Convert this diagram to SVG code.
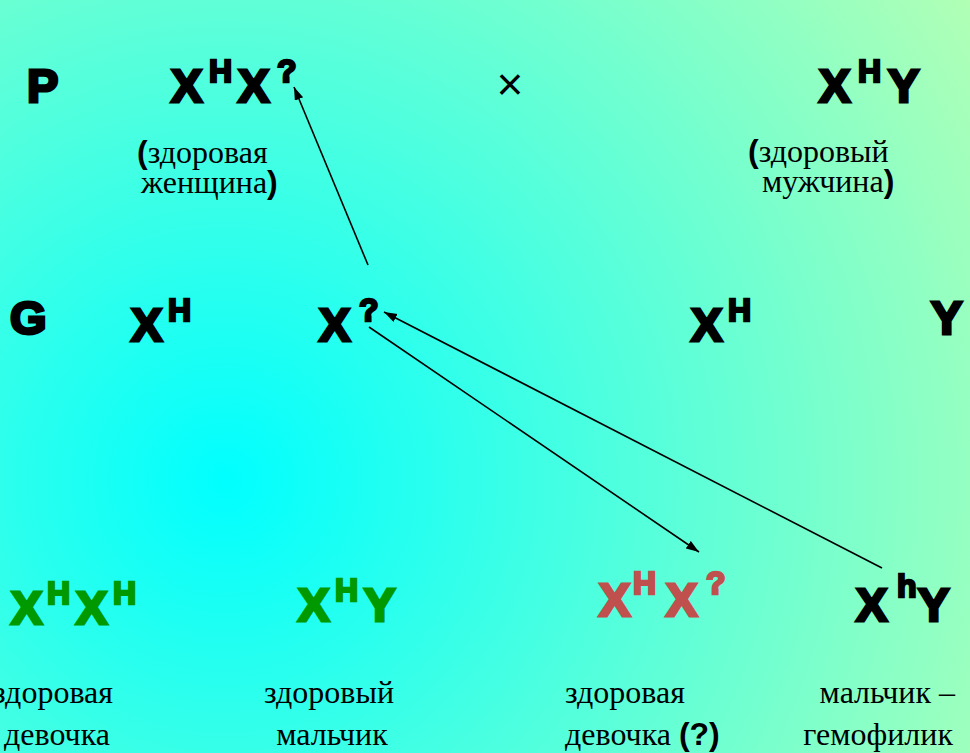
<svg xmlns="http://www.w3.org/2000/svg" width="970" height="753" viewBox="0 0 970 753">
<defs>
<radialGradient id="bg" gradientUnits="userSpaceOnUse" cx="225" cy="480" r="900">
<stop offset="0" stop-color="#00FFFF"/>
<stop offset="1" stop-color="#B4FFB4"/>
</radialGradient>
<marker id="ah" markerUnits="userSpaceOnUse" markerWidth="14" markerHeight="10" refX="13" refY="4.5" orient="auto">
<path d="M0,0 L13,4.5 L0,9 z" fill="#000"/>
</marker>
<style>
.g{font-family:"Liberation Sans",Arial,sans-serif;font-weight:bold;font-size:47px;stroke-width:3px;stroke-linejoin:miter}
.s{font-size:32px;stroke-width:2.4px}
.k{fill:#000;stroke:#000}
.gr{fill:#009900;stroke:#009900}
.rd{fill:#C0504D;stroke:#C0504D}
.t{font-family:"Liberation Serif","Times New Roman",serif;font-size:32px;fill:#000}
.p{font-family:"Liberation Sans",Arial,sans-serif;font-weight:bold}
.ln{stroke:#000;stroke-width:1.6;fill:none;marker-end:url(#ah)}
</style>
</defs>
<rect width="970" height="753" fill="url(#bg)"/>

<g id="row-P">
<text class="g k" x="27" y="102">P</text>
</g>
<g id="mother">
<text class="g k" y="102"><tspan x="171">X</tspan><tspan class="s" x="209" y="82">H</tspan><tspan x="238" y="102">X</tspan><tspan class="s" x="277" y="82">?</tspan></text>
<text class="t" x="137" y="163"><tspan class="p">(</tspan>здоровая</text>
<text class="t" x="141" y="193">женщина<tspan class="p">)</tspan></text>
</g>
<g id="cross">
<text x="510" y="100" text-anchor="middle" font-family="Liberation Sans,Arial,sans-serif" font-size="46" fill="#000">×</text>
</g>
<g id="father">
<text class="g k" y="102"><tspan x="819">X</tspan><tspan class="s" x="858" y="82">H</tspan><tspan x="888" y="102">Y</tspan></text>
<text class="t" x="748" y="162"><tspan class="p">(</tspan>здоровый</text>
<text class="t" x="762" y="192">мужчина<tspan class="p">)</tspan></text>
</g>

<g id="row-G">
<text class="g k" x="10" y="334">G</text>
</g>
<g id="gamete-XH-1">
<text class="g k" y="341"><tspan x="131">X</tspan><tspan class="s" x="168" y="321">H</tspan></text>
</g>
<g id="gamete-Xq">
<text class="g k" y="341"><tspan x="319">X</tspan><tspan class="s" x="359" y="321">?</tspan></text>
</g>
<g id="gamete-XH-2">
<text class="g k" y="341"><tspan x="691">X</tspan><tspan class="s" x="728" y="321">H</tspan></text>
</g>
<g id="gamete-Y">
<text class="g k" x="931" y="334">Y</text>
</g>

<g id="child-1">
<text class="g gr" y="624"><tspan x="11">X</tspan><tspan class="s" x="47" y="604">H</tspan><tspan x="76" y="624">X</tspan><tspan class="s" x="113" y="604">H</tspan></text>
<text class="t" x="53" y="703" text-anchor="middle">здоровая</text>
<text class="t" x="57" y="745" text-anchor="middle">девочка</text>
</g>
<g id="child-2">
<text class="g gr" y="621"><tspan x="298">X</tspan><tspan class="s" x="335" y="601">H</tspan><tspan x="364" y="621">Y</tspan></text>
<text class="t" x="329" y="703" text-anchor="middle">здоровый</text>
<text class="t" x="332" y="745" text-anchor="middle">мальчик</text>
</g>
<g id="child-3">
<text class="g rd" y="616"><tspan x="599">X</tspan><tspan class="s" x="633" y="594">H</tspan><tspan x="666" y="616">X</tspan><tspan class="s" x="706" y="594">?</tspan></text>
<text class="t" x="565" y="703">здоровая</text>
<text class="t" x="565" y="745">девочка <tspan class="p">(?)</tspan></text>
</g>
<g id="child-4">
<text class="g k" y="621"><tspan x="856">X</tspan><tspan class="s" x="897" y="597">h</tspan><tspan x="918" y="621">Y</tspan></text>
<text class="t" x="955" y="703" text-anchor="end">мальчик –</text>
<text class="t" x="953" y="745" text-anchor="end">гемофилик</text>
</g>

<g id="connectors">
<line class="ln" x1="368" y1="265" x2="294" y2="87"/>
<line class="ln" x1="882" y1="568" x2="384" y2="312"/>
<line class="ln" x1="369" y1="327" x2="699" y2="552"/>
</g>
</svg>
